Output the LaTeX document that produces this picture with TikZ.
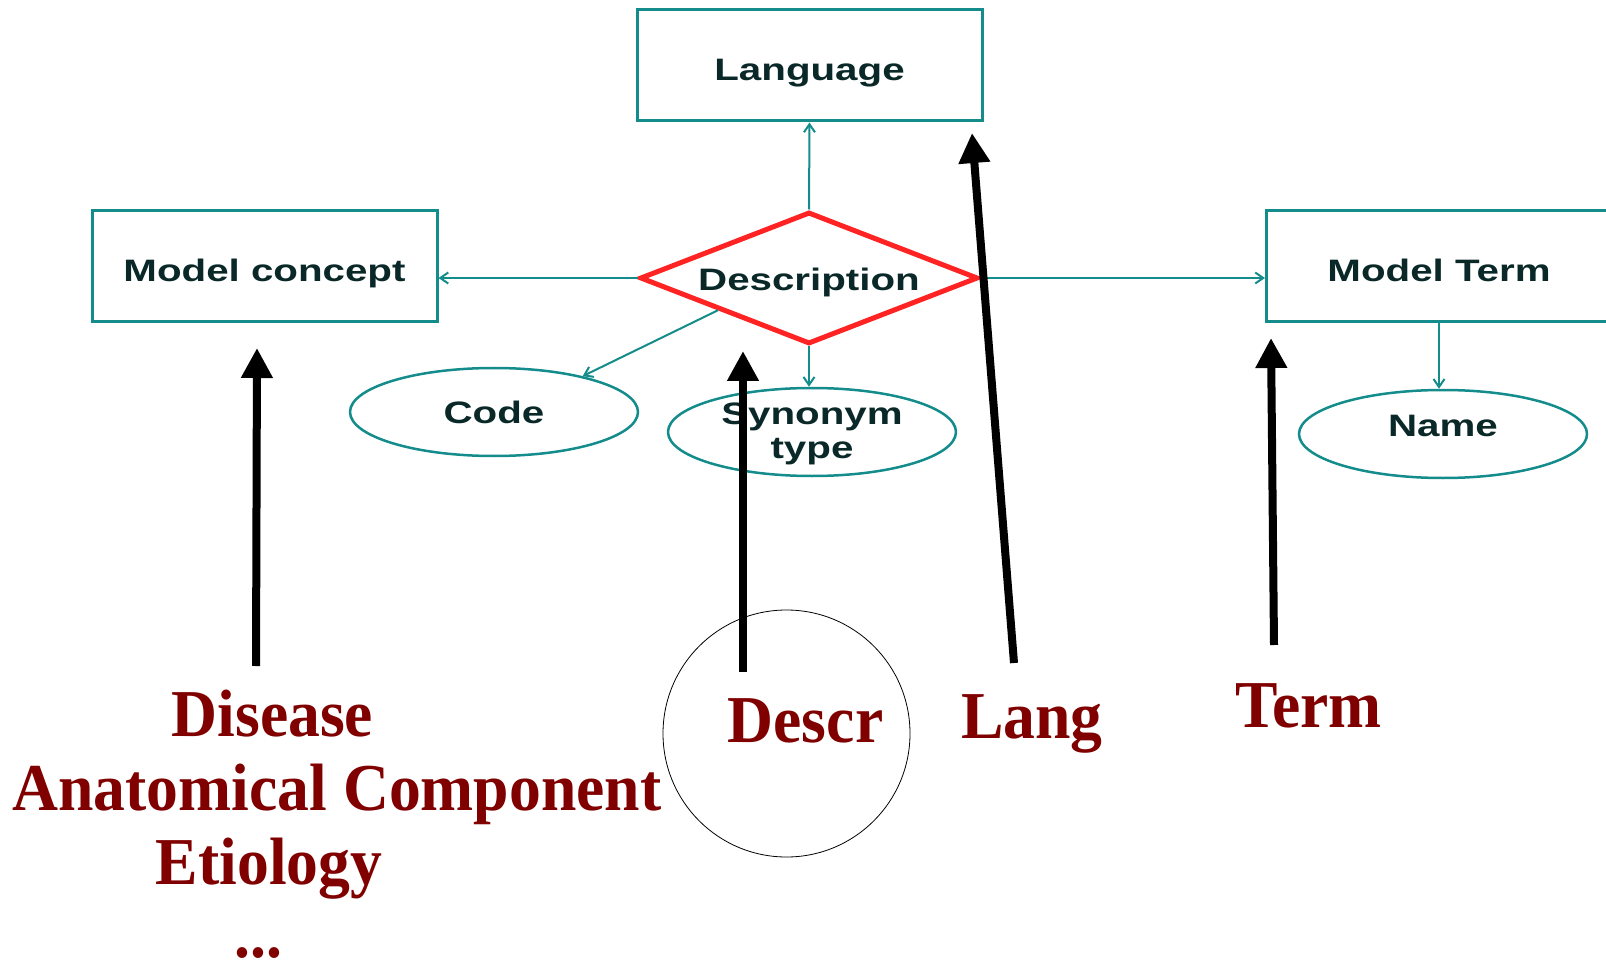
\documentclass[tikz,border=0pt]{standalone}
\usepackage{fontspec}
\usetikzlibrary{shapes.geometric,arrows.meta,calc}
\newfontfamily\erfont[FakeStretch=1.3]{Liberation Sans}
\newfontfamily\lblfont[FakeStretch=0.95]{Liberation Serif}
\definecolor{erline}{RGB}{20,140,140}
\definecolor{ertext}{RGB}{10,40,40}
\definecolor{relred}{RGB}{255,35,35}
\definecolor{lblred}{RGB}{128,0,0}

\begin{document}
\begin{tikzpicture}[x=1pt,y=-1pt,
  erfnt/.style={font=\erfont\bfseries\fontsize{31}{34}\selectfont,text=ertext},
  entity/.style={erfnt,draw=erline,line width=3pt,rectangle,
    minimum width=345pt,minimum height=111pt,inner sep=0pt,
    text height=30pt,text depth=0pt},
  relation/.style={erfnt,draw=relred,line width=5pt,diamond,shape aspect=2.56,
    minimum width=338pt,minimum height=132pt,inner sep=0pt,
    text height=26pt,text depth=0pt},
  attrib/.style={erfnt,draw=erline,line width=2.5pt,ellipse,
    minimum width=288pt,minimum height=88pt,inner sep=0pt,align=center},
  erarrow/.style={draw=erline,line width=2pt,
    -{Straight Barb[length=8pt,width=11pt]}},
  bigarrow/.style={draw=black,line width=8pt,
    -{Triangle[length=30pt,width=30pt]}},
  lbl/.style={font=\lblfont\bfseries\fontsize{67}{74}\selectfont,
    text=lblred,inner sep=0pt,anchor=base},
]
\useasboundingbox (0,0) rectangle (1606,965);

% ER model
\node[entity] (lang) at (809.5,65.5) {Language};
\node[entity] (mc) at (264.5,266.5) {Model concept};
\node[entity] (mt) at (1439,266.5) {Model Term};
\node[relation] (desc) at (809,278) {Description};
\node[attrib,text height=22pt,text depth=0pt] (code) at (494,412) {Code};
\node[attrib,text height=52pt,text depth=0pt] (syn) at (812,432) {Synonym\\type};
\node[attrib,text height=4pt,text depth=0pt] (name) at (1443,434) {Name};

\draw[erarrow] (desc.north) -- (lang.south);
\draw[erarrow] (desc.west) -- (desc.west -| mc.east);
\draw[erarrow] (desc.east) -- (desc.east -| mt.west);
\draw[erarrow] ($(desc.west)!0.47!(desc.south)$) -- (code.22);
\draw[erarrow] (desc.south) -- (desc.south |- syn.north);
\draw[erarrow] (mt.south) -- (mt.south |- name.north);

% labels
\node[lbl] (disease) at (272.5,736) {Disease};
\node[lbl] (anat) at (337,810) {Anatomical Component};
\node[lbl] (etio) at (269,884) {Etiology};
\node[lbl] (more) at (258.5,957) {...};
\node[lbl] (descr) at (805.5,742) {Descr};
\node[lbl] (langl) at (1032,738) {Lang};
\node[lbl] (terml) at (1308.5,727) {Term};

\node[draw=black,line width=0.8pt,circle,minimum size=247pt,inner sep=0pt] (ring) at (786.5,733.5) {};

% pointer arrows
\coordinate (t1) at (256,666);  \coordinate (h1) at (257,348);
\coordinate (t2) at (743,672);  \coordinate (h2) at (743,351);
\coordinate (t3) at (1014,663); \coordinate (h3) at (972,133);
\coordinate (t4) at (1274,645); \coordinate (h4) at (1271,338);
\draw[bigarrow] (t1) -- (h1);
\draw[bigarrow] (t2) -- (h2);
\draw[bigarrow] (t3) -- (h3);
\draw[bigarrow] (t4) -- (h4);
\end{tikzpicture}
\end{document}
